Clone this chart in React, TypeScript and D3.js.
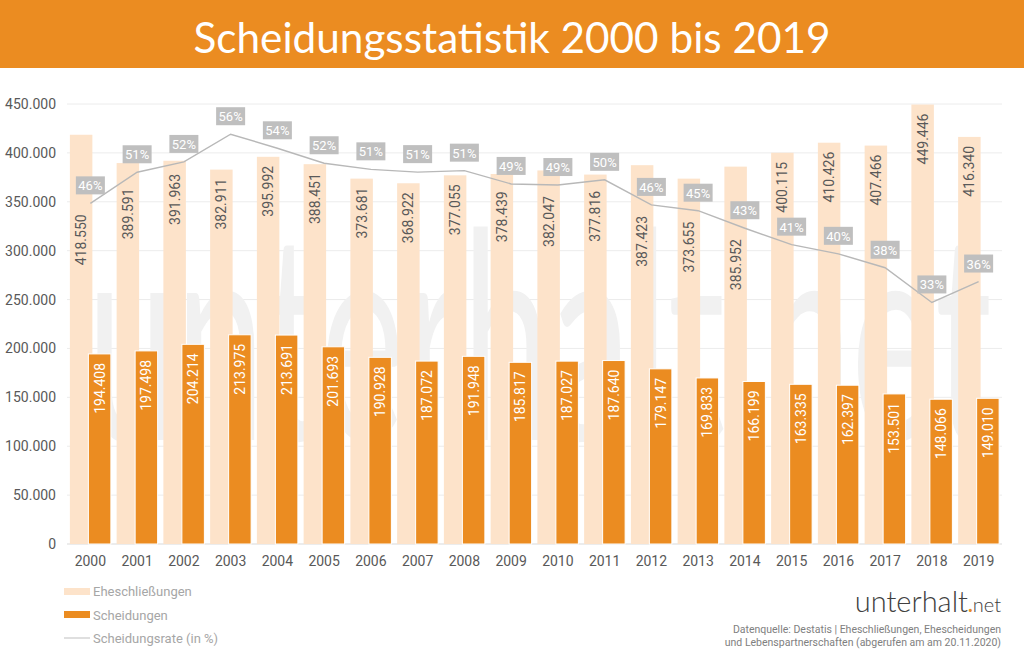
import React from "react";
import * as d3 from "d3";

// Eheschließungen, Scheidungen und Scheidungsrate in Deutschland, 2000–2019
const years = [
  "2000", "2001", "2002", "2003", "2004", "2005", "2006", "2007", "2008", "2009",
  "2010", "2011", "2012", "2013", "2014", "2015", "2016", "2017", "2018", "2019",
];
const marriages = [
  418550, 389591, 391963, 382911, 395992, 388451, 373681, 368922, 377055, 378439,
  382047, 377816, 387423, 373655, 385952, 400115, 410426, 407466, 449446, 416340,
];
const divorces = [
  194408, 197498, 204214, 213975, 213691, 201693, 190928, 187072, 191948, 185817,
  187027, 187640, 179147, 169833, 166199, 163335, 162397, 153501, 148066, 149010,
];
// Scheidungen je 100 Eheschließungen
const divorceRate = [
  46.45, 50.69, 52.1, 55.88, 53.96, 51.92, 51.09, 50.71, 50.91, 49.1,
  48.95, 49.66, 46.24, 45.45, 43.06, 40.82, 39.57, 37.67, 32.94, 35.79,
];
const yTicks = [0, 50000, 100000, 150000, 200000, 250000, 300000, 350000, 400000, 450000];
const legendItems = ["Eheschließungen", "Scheidungen", "Scheidungsrate (in %)"];
const titleText = "Scheidungsstatistik 2000 bis 2019";
const sourceLines = [
  "Datenquelle: Destatis | Eheschließungen, Ehescheidungen",
  "und Lebenspartnerschaften (abgerufen am am 20.11.2020)",
];

const W = 1024;
const H = 667;
const ORANGE = "#EB8C21";
const PEACH = "#FDE3CA";
const GREY_BOX = "#BFBFBF";
const AXIS_TEXT = "#595959";
const FONT = "Roboto, 'Open Sans', sans-serif";

const de = d3.formatLocale({ decimal: ",", thousands: ".", grouping: [3], currency: ["", " €"] });
const fmtNum = de.format(",d");
const fmtPct = (v: number) => `${d3.format(".0f")(v)}%`;

export default function App() {
  const plotLeft = 67;
  const plotRight = 1002;
  const plotTop = 104;
  const plotBottom = 544;

  const x = d3.scaleBand<string>().domain(years).range([plotLeft, plotRight]).padding(0);
  const y = d3.scaleLinear().domain([0, 450000]).range([plotBottom, plotTop]);
  const yRate = d3.scaleLinear().domain([0, 60]).range([plotBottom, plotTop]);

  const step = x.step();
  const barW = 22.5;
  const center = (yr: string) => (x(yr) as number) + step / 2;
  const lightX = (yr: string) => center(yr) - 20.5;
  const darkX = (yr: string) => center(yr) - 2;

  const pts: [number, number][] = years.map((yr, i) => [center(yr), yRate(divorceRate[i])]);
  const line = d3.line<[number, number]>().x((d) => d[0]).y((d) => d[1]);

  const boxW = 29;
  const boxH = 18;
  const boxes = pts.map(([px, py]) => ({
    x0: px - boxW / 2,
    x1: px + boxW / 2,
    y0: py - 18 - boxH / 2,
    y1: py - 18 + boxH / 2,
  }));

  // y of the rate line at a given x
  const lineYAt = (px: number): number | null => {
    for (let i = 0; i < pts.length - 1; i++) {
      const [ax, ay] = pts[i];
      const [bx, by] = pts[i + 1];
      if (px >= ax && px <= bx) return ay + ((px - ax) / (bx - ax)) * (by - ay);
    }
    return null;
  };

  // start of the rotated value label inside a light bar, pushed below the rate line / box when needed
  const labelLen = 52;
  const lightLabelTop = (i: number) => {
    const yr = years[i];
    const bx0 = lightX(yr);
    const bx1 = bx0 + barW;
    const bc = bx0 + barW / 2;
    let start = y(marriages[i]) + 9;
    const b = boxes[i];
    if (b.x1 > bx0 && b.x0 < bx1 && b.y0 < start + labelLen && b.y1 > start - 4) {
      start = b.y1 + 20;
    }
    const ly = lineYAt(bc);
    if (ly !== null && ly > start - 6 && ly < start + labelLen) {
      start = ly + 10;
    }
    return start;
  };

  return (
    <div style={{ position: "absolute", left: 0, top: 0, width: W, height: H }}>
      <svg width={W} height={H} viewBox={`0 0 ${W} ${H}`} style={{ display: "block", background: "#fff" }}>
        {/* title band */}
        <rect x={0} y={0} width={W} height={68} fill={ORANGE} />
        <text
          x={W / 2}
          y={53}
          textAnchor="middle"
          fill="#fff"
          fontFamily="Lato, 'Open Sans', sans-serif"
          fontSize={42}
          textLength={637}
          lengthAdjust="spacingAndGlyphs"
        >
          {titleText}
        </text>

        {/* gridlines */}
        {yTicks.map((t) => (
          <line
            key={t}
            x1={plotLeft}
            x2={plotRight}
            y1={y(t)}
            y2={y(t)}
            stroke={t === 0 ? "#d9d9d9" : "#ececec"}
            strokeWidth={1}
          />
        ))}

        {/* faint brand watermark */}
        <text
          x={87}
          y={440}
          fill="#f1f1f1"
          fontFamily="Lato, sans-serif"
          fontWeight={400}
          fontSize={290}
          textLength={905}
          lengthAdjust="spacingAndGlyphs"
        >
          unterhalt.net
        </text>

        {/* y axis labels */}
        {yTicks.map((t) => (
          <text
            key={t}
            x={56}
            y={y(t)}
            textAnchor="end"
            dominantBaseline="central"
            fill={AXIS_TEXT}
            fontFamily={FONT}
            fontSize={14}
          >
            {fmtNum(t)}
          </text>
        ))}

        {/* Eheschließungen */}
        {years.map((yr, i) => (
          <rect
            key={`m${yr}`}
            x={lightX(yr)}
            y={y(marriages[i])}
            width={barW}
            height={y(0) - y(marriages[i])}
            fill={PEACH}
          />
        ))}

        {/* Scheidungen */}
        {years.map((yr, i) => (
          <rect
            key={`d${yr}`}
            x={darkX(yr)}
            y={y(divorces[i])}
            width={barW}
            height={y(0) - y(divorces[i])}
            fill={ORANGE}
            stroke="#fff"
            strokeWidth={1}
          />
        ))}

        {/* value labels: marriages */}
        {years.map((yr, i) => {
          const cx = lightX(yr) + barW / 2;
          const top = lightLabelTop(i);
          return (
            <text
              key={`ml${yr}`}
              transform={`translate(${cx},${top}) rotate(-90)`}
              textAnchor="end"
              dominantBaseline="central"
              fill={AXIS_TEXT}
              fontFamily={FONT}
              fontSize={14}
            >
              {fmtNum(marriages[i])}
            </text>
          );
        })}

        {/* value labels: divorces */}
        {years.map((yr, i) => {
          const cx = darkX(yr) + barW / 2;
          const top = y(divorces[i]) + 9;
          return (
            <text
              key={`dl${yr}`}
              transform={`translate(${cx},${top}) rotate(-90)`}
              textAnchor="end"
              dominantBaseline="central"
              fill="#fff"
              fontFamily={FONT}
              fontSize={14}
            >
              {fmtNum(divorces[i])}
            </text>
          );
        })}

        {/* divorce rate line */}
        <path d={line(pts) ?? ""} fill="none" stroke="#b8b8b8" strokeWidth={1.4} />

        {/* divorce rate labels */}
        {years.map((yr, i) => {
          const b = boxes[i];
          return (
            <g key={`r${yr}`}>
              <rect x={b.x0} y={b.y0} width={boxW} height={boxH} fill={GREY_BOX} />
              <text
                x={(b.x0 + b.x1) / 2}
                y={(b.y0 + b.y1) / 2 + 0.5}
                textAnchor="middle"
                dominantBaseline="central"
                fill="#fff"
                fontFamily={FONT}
                fontSize={13}
              >
                {fmtPct(divorceRate[i])}
              </text>
            </g>
          );
        })}

        {/* x axis labels */}
        {years.map((yr) => (
          <text
            key={`x${yr}`}
            x={center(yr)}
            y={566}
            textAnchor="middle"
            fill={AXIS_TEXT}
            fontFamily={FONT}
            fontSize={14}
          >
            {yr}
          </text>
        ))}

        {/* legend */}
        <rect x={64} y={588} width={26} height={7} fill={PEACH} />
        <rect x={64} y={611} width={26} height={7} fill={ORANGE} />
        <line x1={64} x2={90} y1={638} y2={638} stroke="#bfbfbf" strokeWidth={1} />
        {legendItems.map((label, i) => (
          <text
            key={label}
            x={93}
            y={591.5 + i * 23.5}
            dominantBaseline="central"
            fill="#a6a6a6"
            fontFamily={FONT}
            fontSize={13}
          >
            {label}
          </text>
        ))}

        {/* brand */}
        <text x={1001} y={612} textAnchor="end" fill="#404040" fontFamily="Lato, sans-serif" fontWeight={300}>
          <tspan fontSize={29}>unterhalt</tspan>
          <tspan fontSize={20} fill={ORANGE} fontWeight={700}>.</tspan>
          <tspan fontSize={20}>net</tspan>
        </text>

        {/* source */}
        {sourceLines.map((s, i) => (
          <text
            key={s}
            x={1001}
            y={633 + i * 13}
            textAnchor="end"
            fill="#808080"
            fontFamily={FONT}
            fontSize={10.5}
          >
            {s}
          </text>
        ))}
      </svg>
    </div>
  );
}
